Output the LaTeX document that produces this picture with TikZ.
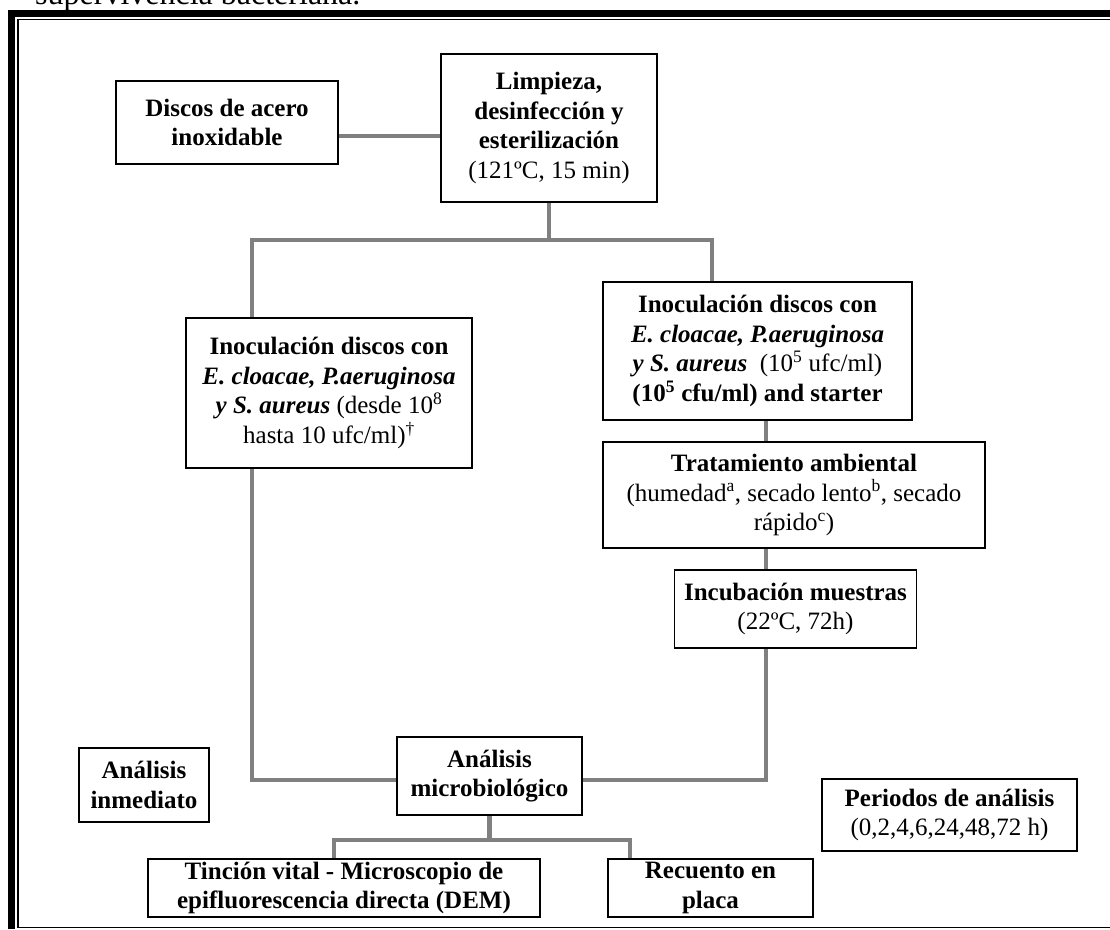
\documentclass[tikz,border=0pt]{standalone}
\usepackage{fontspec}
\setmainfont{Liberation Serif}
\definecolor{linkgray}{RGB}{128,128,128}
\begin{document}
\begin{tikzpicture}[x=1pt,y=-1pt,
  box/.style={draw=black, line width=1.6pt, fill=white, align=center,
    inner sep=1pt, font=\fontsize{25}{29.5}\selectfont\bfseries},
  conn/.style={draw=linkgray, line width=4.5pt}
]
\useasboundingbox (0,0) rectangle (1110,929);

% caption line cut by the page top
\begin{scope}
  \clip (0,0) rectangle (1110,929);
  \node[anchor=base west, inner sep=0, font=\fontsize{32}{38}\selectfont] (caption) at (35,4) {supervivencia bacteriana.};
\end{scope}

% page border: thick outer rule and thin inner rule
\draw[line width=7pt] (11.5,929) -- (11.5,13.5) -- (1110,13.5);
\draw[line width=1.5pt] (1110,19.5) -- (17.75,19.5) -- (17.75,927.5) -- (1110,927.5);

% boxes
\node[box, minimum width=222pt, minimum height=83pt] (discos) at (227,122.5)
  {Discos de acero\\inoxidable};
\node[box, minimum width=216pt, minimum height=148pt] (limpieza) at (549,128)
  {Limpieza,\\desinfección y\\esterilización\\\mdseries(121ºC, 15 min)};
\node[box, minimum width=286pt, minimum height=150pt] (inocL) at (329,393)
  {Inoculación discos con\\\textit{E. cloacae, P.aeruginosa}\\\textit{y S. aureus} {\mdseries(desde 10\textsuperscript{8}}\\\mdseries hasta 10 ufc/ml)\textsuperscript{\textdagger}};
\node[box, minimum width=309pt, minimum height=138pt] (inocR) at (757.5,351)
  {Inoculación discos con\\\textit{E. cloacae, P.aeruginosa}\\\textit{y S. aureus}\ \ {\mdseries(10\textsuperscript{5} ufc/ml)}\\(10\textsuperscript{5} cfu/ml) and starter};
\node[box, minimum width=382pt, minimum height=106pt] (trat) at (794,495)
  {Tratamiento ambiental\\\mdseries(humedad\textsuperscript{a}, secado lento\textsuperscript{b}, secado\\\mdseries rápido\textsuperscript{c})};
\node[box, minimum width=242pt, minimum height=78pt] (incub) at (795.5,609)
  {Incubación muestras\\\mdseries(22ºC, 72h)};
\node[box, minimum width=185pt, minimum height=78pt] (analisis) at (489.5,776)
  {Análisis\\microbiológico};
\node[box, minimum width=130pt, minimum height=74pt] (inmed) at (144,785)
  {Análisis\\inmediato};
\node[box, minimum width=255pt, minimum height=72pt] (periodos) at (949.5,815)
  {Periodos de análisis\\\mdseries(0,2,4,6,24,48,72 h)};
\node[box, minimum width=392pt, minimum height=58pt, inner sep=0pt] (tincion) at (344,888)
  {Tinción vital - Microscopio de\\epifluorescencia directa (DEM)};
\node[box, minimum width=205pt, minimum height=58pt, inner sep=0pt] (recuento) at (710.5,888)
  {Recuento en\\placa};

% connector coordinates
\coordinate (split1) at (549,240);
\coordinate (split2) at (489.5,840);
\coordinate (leftrun) at (252,240);
\coordinate (rightrun) at (712,240);
\coordinate (chain) at (766,0);
\coordinate (join) at (766,780);

% connectors
\draw[conn] (discos.east |- 0,136) -- (limpieza.west |- 0,136);
\draw[conn] (limpieza.south) -- (split1);
\draw[conn] (inocL.north -| leftrun) |- (rightrun) -- (inocR.north -| rightrun);
\draw[conn] (inocL.south -| leftrun) |- (analisis.west |- join);
\draw[conn] (inocR.south -| chain) -- (trat.north -| chain);
\draw[conn] (trat.south -| chain) -- (incub.north -| chain);
\draw[conn] (incub.south -| chain) -- (join) -- (analisis.east |- join);
\draw[conn] (analisis.south) -- (split2);
\draw[conn] (tincion.north -| 334,0) |- (split2) -| (recuento.north -| 630,0);
\end{tikzpicture}
\end{document}
